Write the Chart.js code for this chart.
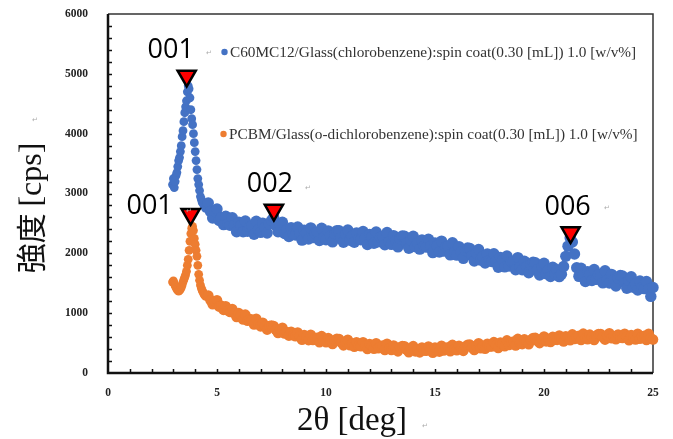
<!DOCTYPE html>
<html lang="ja">
<head>
    <meta charset="UTF-8">
    <title>XRD</title>
    <script src="https://cdn.jsdelivr.net/npm/chart.js"></script>
    <style>
        body {
            margin: 0;
            background-color: white;
        }
        .chart-container {
            width: 673px;
            height: 439px;
        }
    </style>
</head>
<body>
    <div class="chart-container">
        <canvas id="myChart"></canvas>
    </div>

    <script>
        // 2θ [deg] — fine steps around the 001 peaks, then every 0.1 deg
        const twoTheta = [
            2.96, 3.00, 3.04, 3.08, 3.12, 3.16, 3.20, 3.24, 3.28, 3.32,
            3.36, 3.40, 3.44, 3.48, 3.52, 3.56, 3.60, 3.64, 3.68, 3.72,
            3.76, 3.80, 3.84, 3.88, 3.92, 3.96, 4.00, 4.04, 4.08, 4.12,
            4.16, 4.20, 4.24, 4.28, 4.32, 4.36, 4.40, 4.44, 4.48,
            4.6, 4.7, 4.8, 4.9, 5.0, 5.1, 5.2, 5.3, 5.4, 5.5,
            5.6, 5.7, 5.8, 5.9, 6.0, 6.1, 6.2, 6.3, 6.4, 6.5,
            6.6, 6.7, 6.8, 6.9, 7.0, 7.1, 7.2, 7.3, 7.4, 7.5,
            7.6, 7.7, 7.8, 7.9, 8.0, 8.1, 8.2, 8.3, 8.4, 8.5,
            8.6, 8.7, 8.8, 8.9, 9.0, 9.1, 9.2, 9.3, 9.4, 9.5,
            9.6, 9.7, 9.8, 9.9, 10.0, 10.1, 10.2, 10.3, 10.4, 10.5,
            10.6, 10.7, 10.8, 10.9, 11.0, 11.1, 11.2, 11.3, 11.4, 11.5,
            11.6, 11.7, 11.8, 11.9, 12.0, 12.1, 12.2, 12.3, 12.4, 12.5,
            12.6, 12.7, 12.8, 12.9, 13.0, 13.1, 13.2, 13.3, 13.4, 13.5,
            13.6, 13.7, 13.8, 13.9, 14.0, 14.1, 14.2, 14.3, 14.4, 14.5,
            14.6, 14.7, 14.8, 14.9, 15.0, 15.1, 15.2, 15.3, 15.4, 15.5,
            15.6, 15.7, 15.8, 15.9, 16.0, 16.1, 16.2, 16.3, 16.4, 16.5,
            16.6, 16.7, 16.8, 16.9, 17.0, 17.1, 17.2, 17.3, 17.4, 17.5,
            17.6, 17.7, 17.8, 17.9, 18.0, 18.1, 18.2, 18.3, 18.4, 18.5,
            18.6, 18.7, 18.8, 18.9, 19.0, 19.1, 19.2, 19.3, 19.4, 19.5,
            19.6, 19.7, 19.8, 19.9, 20.0, 20.1, 20.2, 20.3, 20.4, 20.5,
            20.6, 20.7, 20.8, 20.9, 21.0, 21.1, 21.2, 21.3, 21.4, 21.5,
            21.6, 21.7, 21.8, 21.9, 22.0, 22.1, 22.2, 22.3, 22.4, 22.5,
            22.6, 22.7, 22.8, 22.9, 23.0, 23.1, 23.2, 23.3, 23.4, 23.5,
            23.6, 23.7, 23.8, 23.9, 24.0, 24.1, 24.2, 24.3, 24.4, 24.5,
            24.6, 24.7, 24.8, 24.9, 25.0
        ];

        // C60MC12 / chlorobenzene [cps]
        const c60Counts = [
            3150, 3250, 3100, 3200, 3300, 3350, 3450, 3550, 3600, 3700,
            3800, 3950, 4050, 4200, 4350, 4450, 4550, 4700, 4800, 4750,
            4600, 4400, 4250, 4150, 4000, 3850, 3700, 3550, 3400, 3250,
            3150, 3050, 2950, 2900, 2850, 2850, 2800, 2780, 2750,
            2840, 2700, 2590, 2700, 2740, 2550, 2600, 2480, 2620, 2500,
            2470, 2595, 2470, 2360, 2520, 2470, 2360, 2540, 2370, 2440,
            2460, 2320, 2535, 2390, 2350, 2505, 2430, 2340, 2490, 2550,
            2600, 2470, 2360, 2470, 2520, 2330, 2390, 2280, 2430, 2320,
            2305, 2440, 2325, 2220, 2385, 2340, 2238, 2425, 2262, 2340,
            2355, 2213, 2420, 2268, 2226, 2375, 2293, 2192, 2331, 2380,
            2378, 2266, 2184, 2322, 2390, 2218, 2286, 2184, 2342, 2240,
            2227, 2364, 2251, 2148, 2315, 2272, 2169, 2356, 2193, 2270,
            2286, 2142, 2348, 2194, 2150, 2296, 2212, 2108, 2244, 2290,
            2285, 2170, 2085, 2220, 2285, 2110, 2175, 2070, 2225, 2120,
            2103, 2236, 2119, 2012, 2175, 2128, 2021, 2204, 2037, 2110,
            2122, 1974, 2176, 2018, 1970, 2112, 2024, 1916, 2048, 2090,
            2081, 1962, 1873, 2004, 2065, 1886, 1947, 1838, 1989, 1880,
            1862, 1994, 1876, 1768, 1930, 1882, 1774, 1956, 1788, 1860,
            1873, 1726, 1929, 1772, 1725, 1868, 1781, 1674, 1807, 1850,
            1843, 1726, 1639, 1772, 1835, 1658, 1721, 1614, 1767, 1660,
            1725, 1610, 1650, 1780, 1950, 2120, 2260, 2190, 1990, 1760,
            1615, 1750, 1635, 1530, 1695, 1650, 1545, 1730, 1565, 1640,
            1653, 1506, 1709, 1552, 1505, 1648, 1561, 1454, 1587, 1630,
            1622, 1504, 1416, 1548, 1610, 1432, 1494, 1386, 1538, 1430,
            1410, 1530, 1400, 1280, 1430
        ];

        // PCBM / o-dichlorobenzene [cps]
        const pcbmCounts = [
            1520, 1540, 1500, 1460, 1430, 1400, 1380, 1370, 1380, 1400,
            1430, 1470, 1520, 1560, 1600, 1640, 1700, 1800, 1900, 2050,
            2200, 2330, 2420, 2450, 2380, 2250, 2150, 2050, 1950, 1800,
            1650, 1550, 1470, 1420, 1380, 1350, 1320, 1300, 1280,
            1295, 1215, 1150, 1200, 1215, 1110, 1125, 1055, 1115, 1045,
            1020, 1070, 1000, 935, 1000, 965, 895, 975, 875, 900,
            895, 810, 905, 815, 780, 840, 790, 725, 785, 795,
            785, 720, 670, 730, 755, 660, 685, 625, 690, 630,
            615, 678, 615, 557, 635, 608, 550, 638, 551, 585,
            590, 515, 616, 537, 513, 584, 540, 486, 552, 573,
            569, 508, 462, 526, 555, 464, 493, 438, 513, 458,
            449, 515, 456, 402, 483, 459, 405, 497, 414, 451,
            458, 385, 487, 409, 386, 458, 415, 362, 429, 451,
            448, 390, 348, 416, 449, 362, 396, 345, 425, 375,
            371, 442, 388, 339, 425, 406, 358, 455, 377, 419,
            431, 363, 470, 397, 379, 456, 418, 370, 443, 471,
            474, 422, 385, 458, 496, 414, 452, 405, 489, 443,
            442, 516, 465, 419, 508, 492, 446, 545, 469, 513,
            527, 461, 570, 499, 483, 562, 526, 480, 554, 583,
            587, 536, 500, 573, 611, 529, 567, 520, 603, 556,
            554, 627, 575, 527, 614, 596, 548, 645, 567, 609,
            621, 552, 658, 584, 565, 641, 602, 553, 624, 650,
            651, 597, 558, 629, 665, 580, 615, 565, 644, 593,
            587, 656, 600, 549, 633, 612, 561, 655, 574, 613,
            622, 551, 655, 579, 560
        ];

        // peak markers
        const peakX = [3.61, 3.79, 7.61, 21.22];
        const peakY = [4964, 2652, 2724, 2347];
        const peakLabels = ['001', '001', '002', '006'];

        const xTicks = [0, 5, 10, 15, 20, 25];
        const yTicks = [0, 1000, 2000, 3000, 4000, 5000, 6000];

        const c60Label = 'C60MC12/Glass(chlorobenzene):spin coat(0.30 [mL]) 1.0 [w/v%]';
        const pcbmLabel = 'PCBM/Glass(o-dichlorobenzene):spin coat(0.30 [mL]) 1.0 [w/v%]';

        const BLUE = '#4472C4';
        const ORANGE = '#ED7D31';

        const toPoints = (ys) => ys.map((v, i) => ({ x: twoTheta[i], y: v }));
        // smaller dots on the sharp 001 peaks, larger ones on the noisy background
        const dotSize = (big) => (c) => (c.raw && c.raw.x < 4.55 ? 4.4 : big);

        // label offsets from the marker centre, in px
        const labelOffsets = [[-16, -26], [-41, -8], [-4, -26], [-3, -25]];
        const returnMarks = [[209, 55], [189, 213], [308, 190], [607, 210], [35, 122], [425, 428]];

        const framePlugin = {
            id: 'frame',
            beforeDatasetsDraw(chart) {
                const { ctx, chartArea: a, scales: { x, y } } = chart;
                ctx.save();
                ctx.strokeStyle = '#333';
                ctx.lineWidth = 1.5;
                ctx.beginPath();
                ctx.moveTo(a.left, a.top);
                ctx.lineTo(a.right, a.top);
                ctx.lineTo(a.right, a.bottom);
                ctx.stroke();

                ctx.strokeStyle = '#111';
                ctx.lineWidth = 2.5;
                ctx.beginPath();
                ctx.moveTo(a.left, a.top);
                ctx.lineTo(a.left, a.bottom);
                ctx.lineTo(a.right, a.bottom);
                ctx.stroke();

                // inward minor ticks
                ctx.lineWidth = 1.5;
                ctx.beginPath();
                for (let v = 1; v < 25; v++) {
                    const px = Math.round(x.getPixelForValue(v)) + 0.5;
                    ctx.moveTo(px, a.bottom);
                    ctx.lineTo(px, a.bottom - 4);
                }
                for (let v = 200; v < 6000; v += 200) {
                    const py = Math.round(y.getPixelForValue(v)) + 0.5;
                    ctx.moveTo(a.left, py);
                    ctx.lineTo(a.left + 4, py);
                }
                ctx.stroke();
                ctx.restore();
            },
            afterDraw(chart) {
                const { ctx } = chart;
                const markers = chart.getDatasetMeta(2).data;
                ctx.save();

                // peak labels
                ctx.fillStyle = '#000';
                ctx.font = '27px "Open Sans"';
                ctx.textAlign = 'center';
                ctx.textBaseline = 'middle';
                markers.forEach((pt, i) => {
                    ctx.fillText(peakLabels[i], pt.x + labelOffsets[i][0], pt.y + labelOffsets[i][1]);
                });

                // legend entries
                ctx.font = '15.3px "Liberation Serif"';
                ctx.textAlign = 'left';
                ctx.textBaseline = 'alphabetic';
                ctx.fillStyle = '#333';
                ctx.fillText(c60Label, 230, 57);
                ctx.fillText(pcbmLabel, 229, 139);
                ctx.fillStyle = BLUE;
                ctx.beginPath();
                ctx.arc(224.5, 52, 3.2, 0, Math.PI * 2);
                ctx.fill();
                ctx.fillStyle = ORANGE;
                ctx.beginPath();
                ctx.arc(223.5, 134, 3.2, 0, Math.PI * 2);
                ctx.fill();

                // x axis title
                ctx.fillStyle = '#111';
                ctx.textAlign = 'center';
                ctx.font = '33px "Liberation Serif"';
                ctx.fillText('2θ [deg]', 352, 430);

                // y axis title
                ctx.save();
                ctx.translate(31, 208);
                ctx.rotate(-Math.PI / 2);
                ctx.textAlign = 'left';
                ctx.textBaseline = 'middle';
                const jp = '30px "Noto Sans CJK JP"';
                const en = '32px "Liberation Serif"';
                ctx.font = jp;
                const w1 = ctx.measureText('強度 ').width;
                ctx.font = en;
                const w2 = ctx.measureText('[cps]').width;
                const start = -(w1 + w2) / 2;
                ctx.font = jp;
                ctx.fillText('強度 ', start, 0);
                ctx.font = en;
                ctx.fillText('[cps]', start + w1, 2);
                ctx.restore();

                // stray paragraph marks
                ctx.fillStyle = '#aaa';
                ctx.font = '7px "DejaVu Sans"';
                ctx.textAlign = 'center';
                returnMarks.forEach(p => ctx.fillText('↵', p[0], p[1]));
                ctx.restore();
            }
        };

        const tickFont = { family: '"Liberation Serif"', size: 11.5, weight: 'bold' };

        new Chart(document.getElementById('myChart'), {
            type: 'scatter',
            data: {
                datasets: [
                    {
                        label: c60Label,
                        data: toPoints(c60Counts),
                        backgroundColor: BLUE,
                        borderColor: BLUE,
                        borderWidth: 0,
                        pointRadius: dotSize(5.7),
                        clip: false,
                        order: 2
                    },
                    {
                        label: pcbmLabel,
                        data: toPoints(pcbmCounts),
                        backgroundColor: ORANGE,
                        borderColor: ORANGE,
                        borderWidth: 0,
                        pointRadius: dotSize(5.3),
                        clip: false,
                        order: 3
                    },
                    {
                        label: 'peaks',
                        data: peakX.map((v, i) => ({ x: v, y: peakY[i] })),
                        pointStyle: 'triangle',
                        rotation: 180,
                        pointRadius: 10.5,
                        backgroundColor: '#FF0000',
                        borderColor: '#000',
                        borderWidth: 2.5,
                        clip: false,
                        order: 1
                    }
                ]
            },
            options: {
                responsive: true,
                maintainAspectRatio: false,
                animation: false,
                events: [],
                layout: {
                    padding: { left: 0, right: 20, top: 14, bottom: 0 }
                },
                scales: {
                    x: {
                        type: 'linear',
                        min: 0,
                        max: 25,
                        afterBuildTicks: (s) => { s.ticks = xTicks.map(v => ({ value: v })); },
                        afterFit: (s) => { s.height = 66; },
                        grid: { display: false, drawTicks: true, tickLength: 13 },
                        border: { display: false },
                        ticks: { font: tickFont, color: '#222', padding: 0, callback: (v) => String(v) }
                    },
                    y: {
                        min: 0,
                        max: 6000,
                        afterBuildTicks: (s) => { s.ticks = yTicks.map(v => ({ value: v })); },
                        afterFit: (s) => { s.width = 108; },
                        grid: { display: false, drawTicks: true, tickLength: 20 },
                        border: { display: false },
                        ticks: { font: tickFont, color: '#222', padding: 0, callback: (v) => String(v) }
                    }
                },
                plugins: {
                    legend: { display: false },
                    tooltip: { enabled: false }
                }
            },
            plugins: [framePlugin]
        });
    </script>
</body>
</html>
